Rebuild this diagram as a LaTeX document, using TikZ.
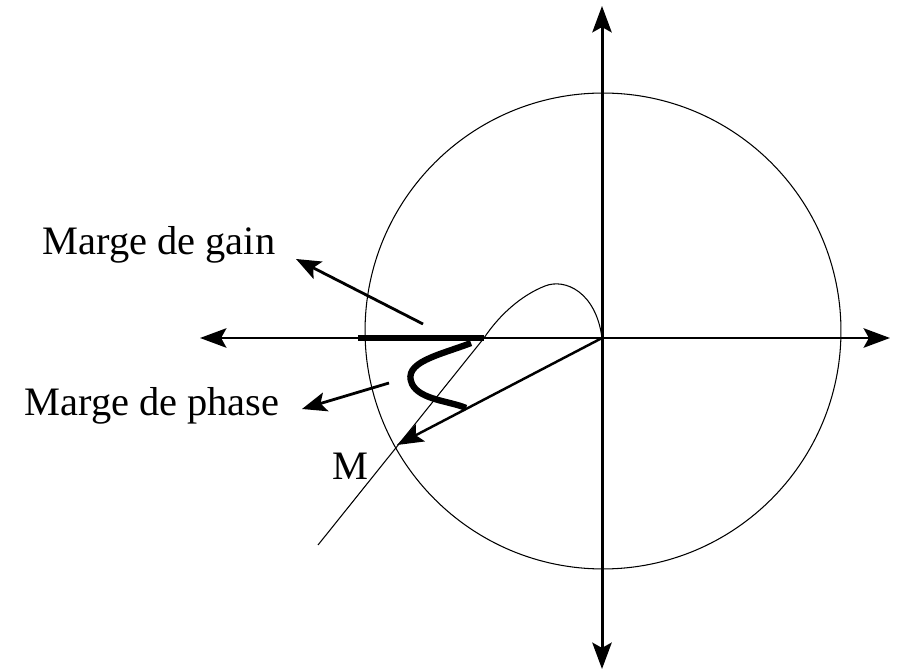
\documentclass[tikz,border=0pt]{standalone}
\usepackage{fontspec}
\setmainfont{Liberation Serif}
\usetikzlibrary{arrows.meta}
\tikzset{
      axisline/.style={
        line width=1.7pt,
        -{Stealth[length=15pt,width=11pt,inset=3pt]}
      },
      thinline/.style={
        line width=0.6pt
      },
      marginline/.style={
        line width=3.6pt
      },
      labelarrow/.style={
        line width=1.6pt,
        -{Stealth[length=14pt,width=11pt,inset=3pt]}
      },
      labeltext/.style={
        font=\fontsize{23}{26}\selectfont,
        inner sep=0pt
      }
    }
\begin{document}
\begin{tikzpicture}[x=0.02cm,y=-0.02cm]
    \useasboundingbox (0,0) rectangle (905,671);
    \coordinate (O) at (602,338);
    \coordinate (cc) at (603,331);
    \coordinate (xl) at (200,338);
    \coordinate (xr) at (890,338);
    \coordinate (yt) at (602,6);
    \coordinate (yb) at (602,669);
    \coordinate (M) at (397,445);
    \coordinate (G1) at (358,338);
    \coordinate (G2) at (484,338);
    \coordinate (P1) at (471,343);
    \coordinate (P2) at (466,408);
    \coordinate (C1) at (318,545);
    \node[labeltext] (gain) at (159,245) {Marge de gain};
    \node[labeltext] (phase) at (152,406) {Marge de phase};
    \node[labeltext] (mlabel) at (350,466) {M};
    \coordinate (gaintip) at (296,259);
    \coordinate (gainend) at (423,324);
    \coordinate (phasetip) at (302,409);
    \coordinate (phaseend) at (389,383);
    \draw[thinline] (cc) circle[radius=4.76cm];
    \draw[axisline] (O) -- (xr);
    \draw[axisline] (O) -- (xl);
    \draw[axisline] (O) -- (yt);
    \draw[axisline] (O) -- (yb);
    \draw[thinline] (O) .. controls (596,292) and (565,278) .. (545,286)
      .. controls (522,295) and (500,314) .. (G2) -- (C1);
    \draw[marginline] (G1) -- (G2);
    \draw[marginline] (P1) .. controls (440,355) and (402,362) .. (412,384)
      .. controls (420,400) and (450,401) .. (P2);
    \draw[line width=1.4pt, -{Stealth[length=15pt,width=11pt,inset=3pt]}] (O) -- (M);
    \draw[labelarrow] (gainend) -- (gaintip);
    \draw[labelarrow] (phaseend) -- (phasetip);
    \end{tikzpicture}
\end{document}
